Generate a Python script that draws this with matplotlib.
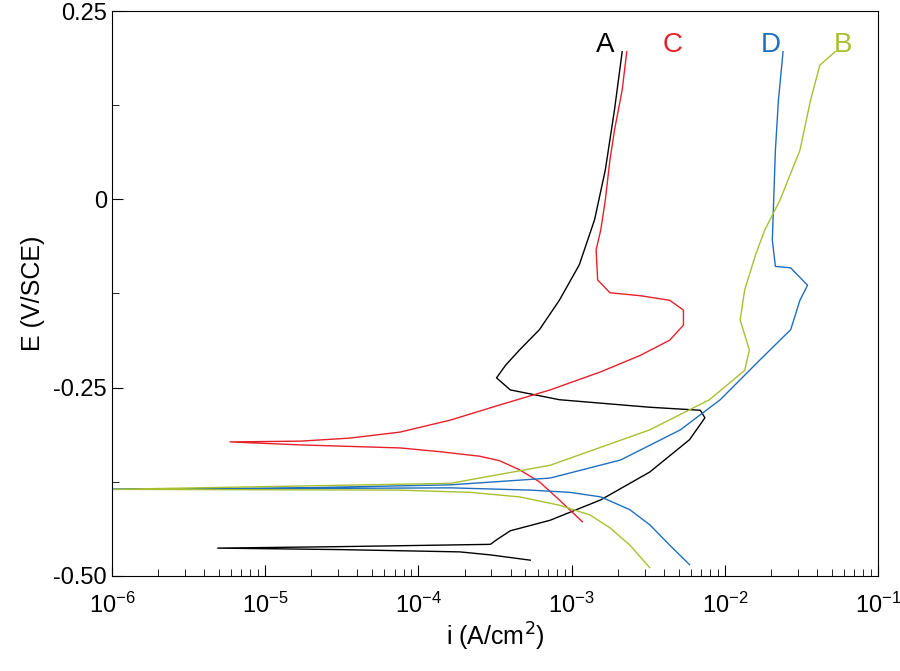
import matplotlib
matplotlib.use("Agg")
import matplotlib.pyplot as plt
import numpy as np
from matplotlib.ticker import FixedLocator, LogLocator, NullFormatter

plt.rcParams['font.family'] = ['Liberation Sans', 'DejaVu Sans']

# log10(i) and E for each curve, traced from cathodic end through Ecorr to anodic end
A_logi = [-3.27, -3.53, -3.73, -4.5, -5.31, -4.5, -3.53, -3.49, -3.40, -3.14, -2.81, -2.49, -2.23, -2.13, -2.16, -2.49, -3.08, -3.40, -3.49, -3.43, -3.34, -3.21, -3.08, -2.95, -2.85, -2.78, -2.72, -2.67]
A_E    = [-0.479, -0.472, -0.468, -0.465, -0.463, -0.461, -0.458, -0.452, -0.440, -0.426, -0.399, -0.362, -0.319, -0.290, -0.280, -0.276, -0.266, -0.253, -0.237, -0.220, -0.200, -0.173, -0.134, -0.087, -0.027, 0.039, 0.119, 0.196]
C_logi = [-2.93, -3.08, -3.21, -3.34, -3.47, -3.60, -3.86, -4.12, -4.77, -5.23, -4.77, -4.45, -4.12, -3.79, -3.47, -3.14, -2.81, -2.55, -2.36, -2.27, -2.27, -2.36, -2.55, -2.75, -2.83, -2.84, -2.81, -2.78, -2.75, -2.72, -2.67, -2.64]
C_E    = [-0.428, -0.399, -0.375, -0.359, -0.347, -0.341, -0.335, -0.330, -0.326, -0.322, -0.321, -0.317, -0.309, -0.293, -0.273, -0.253, -0.229, -0.207, -0.187, -0.167, -0.147, -0.134, -0.128, -0.124, -0.107, -0.067, -0.041, -0.001, 0.052, 0.092, 0.145, 0.196]
D_logi = [-2.23, -2.36, -2.49, -2.62, -2.81, -3.01, -3.27, -3.79, -6.00, -4.77, -3.79, -3.14, -2.68, -2.29, -2.03, -1.77, -1.57, -1.51, -1.46, -1.57, -1.67, -1.69, -1.67, -1.65, -1.62]
D_E    = [-0.485, -0.459, -0.432, -0.412, -0.395, -0.389, -0.386, -0.383, -0.385, -0.383, -0.379, -0.370, -0.346, -0.306, -0.266, -0.213, -0.173, -0.134, -0.114, -0.091, -0.089, -0.054, 0.065, 0.132, 0.196]
B_logi = [-2.49, -2.62, -2.75, -2.88, -3.08, -3.34, -3.66, -4.12, -6.00, -3.79, -3.14, -2.49, -2.10, -1.87, -1.84, -1.90, -1.87, -1.80, -1.74, -1.64, -1.51, -1.44, -1.38, -1.28]
B_E    = [-0.489, -0.459, -0.436, -0.419, -0.406, -0.395, -0.389, -0.386, -0.385, -0.377, -0.353, -0.306, -0.266, -0.227, -0.200, -0.160, -0.120, -0.074, -0.041, -0.001, 0.065, 0.132, 0.178, 0.196]

curves = [("A", A_logi, A_E, "#000000", -2.78), ("C", C_logi, C_E, "#e8202a", -2.34),
          ("D", D_logi, D_E, "#1f6fc0", -1.70), ("B", B_logi, B_E, "#a8c030", -1.23)]

fig = plt.figure(figsize=(9, 6.71), dpi=100)
ax = fig.add_axes([0.1244, 0.1416, 0.8512, 0.842])
for name, li, e, col, lx in curves:
    ax.plot(10 ** np.array(li), e, color=col, lw=1.0)
    ax.text(10 ** lx, 0.205, name, color=col, fontsize=20, ha='center', va='center')

ax.set_xscale('log')
ax.set_xlim(1e-6, 1e-1)
ax.set_ylim(-0.5, 0.25)
ax.set_yticks([-0.5, -0.25, 0, 0.25])
ax.set_yticklabels(['-0.50', '-0.25', '0', '0.25'])
ax.yaxis.set_minor_locator(FixedLocator([-0.375, -0.125, 0.125]))
ax.xaxis.set_major_locator(LogLocator(base=10, numticks=10))
ax.xaxis.set_minor_locator(LogLocator(base=10, subs=np.arange(2, 10), numticks=20))
ax.xaxis.set_minor_formatter(NullFormatter())
ax.tick_params(axis='both', which='both', direction='in', labelsize=17)
ax.tick_params(which='major', length=8)
ax.tick_params(which='minor', length=5)
ax.tick_params(axis='x', pad=12)
for s in ax.spines.values():
    s.set_linewidth(0.8)
ax.set_xlabel('i (A/cm$^2$)', fontsize=18, labelpad=2)
ax.set_ylabel('E (V/SCE)', fontsize=18, labelpad=6)
fig.savefig('out.png', dpi=100)
